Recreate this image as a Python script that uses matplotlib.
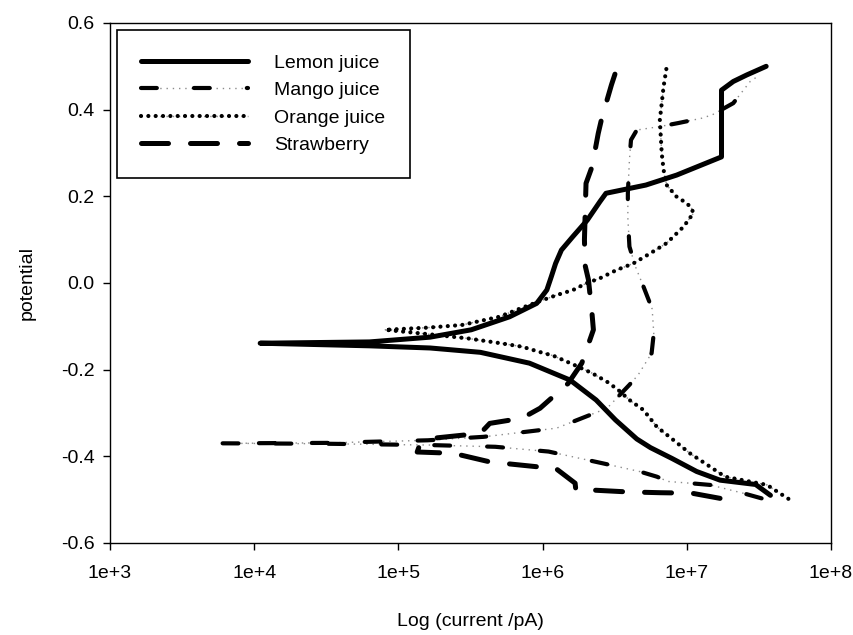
import numpy as np
import matplotlib.pyplot as plt
from matplotlib.ticker import FixedLocator, FuncFormatter, NullLocator

plt.rcParams['font.family'] = ['Liberation Sans', 'DejaVu Sans']
plt.rcParams['axes.unicode_minus'] = False

# current (pA) and potential
lemon_i = [3.8e7, 3.0e7, 1.7e7, 1.17e7, 7.9e6, 5.6e6, 4.5e6, 3.2e6, 2.35e6, 1.55e6,
           8.1e5, 3.7e5, 1.66e5, 6.3e4, 1.1e4, 6.3e4, 1.66e5, 3.2e5, 5.9e5, 9.1e5,
           1.07e6, 1.15e6, 1.23e6, 1.35e6, 1.62e6, 2.04e6, 2.5e6, 2.75e6, 5.2e6, 8.5e6,
           1.74e7, 1.74e7, 2.1e7, 2.6e7, 3.55e7]
lemon_v = [-0.49, -0.465, -0.455, -0.435, -0.405, -0.38, -0.36, -0.316, -0.27, -0.224,
           -0.185, -0.16, -0.15, -0.145, -0.139, -0.136, -0.125, -0.108, -0.078, -0.047,
           -0.016, 0.015, 0.045, 0.076, 0.107, 0.145, 0.188, 0.207, 0.226, 0.249,
           0.291, 0.445, 0.465, 0.48, 0.5]

mango_i = [3.3e7, 2.45e7, 1.45e7, 1.05e7, 7.4e6, 6.2e6, 4.7e6, 2.6e6, 1.1e6, 4.7e5,
           1.66e5, 3.2e4, 6.0e3, 3.2e4, 1.6e5, 3.9e5, 1.25e6, 2.8e6, 4.0e6, 4.6e6,
           5.7e6, 5.9e6, 5.75e6, 5.0e6, 4.4e6, 4.0e6, 3.9e6, 3.9e6, 4.0e6, 4.1e6,
           4.5e6, 6.5e6, 8.7e6, 1.26e7, 1.5e7, 2.1e7, 2.75e7, 3.2e7]
mango_v = [-0.497, -0.485, -0.466, -0.462, -0.458, -0.447, -0.435, -0.416, -0.389, -0.378,
           -0.374, -0.371, -0.37, -0.369, -0.363, -0.355, -0.335, -0.289, -0.235, -0.212,
           -0.162, -0.116, -0.06, -0.008, 0.038, 0.084, 0.15, 0.207, 0.284, 0.33,
           0.353, 0.361, 0.369, 0.38, 0.388, 0.415, 0.465, 0.48]

orange_i = [5.06e7, 4.4e7, 3.6e7, 1.84e7, 1.45e7, 1.05e7, 8.05e6, 6.2e6, 5.0e6, 4.0e6,
            3.35e6, 2.8e6, 2.2e6, 1.63e6, 1.19e6, 9.5e5, 7.2e5, 5.1e5, 3.05e5, 1.6e5,
            8.1e4, 1.6e5, 2.75e5, 5.0e5, 7.1e5, 1.01e6, 1.25e6, 1.63e6, 2.0e6, 2.5e6,
            3.26e6, 4.25e6, 5.55e6, 7.25e6, 9.5e6, 1.11e7, 1.08e7, 1.0e7, 8.5e6, 7.25e6,
            6.9e6, 6.7e6, 6.5e6, 6.9e6, 7.25e6]
orange_v = [-0.498, -0.485, -0.466, -0.447, -0.424, -0.393, -0.362, -0.332, -0.293, -0.27,
            -0.247, -0.228, -0.208, -0.188, -0.168, -0.159, -0.147, -0.139, -0.128, -0.118,
            -0.108, -0.103, -0.097, -0.078, -0.058, -0.039, -0.028, -0.016, -0.001, 0.011,
            0.03, 0.045, 0.068, 0.092, 0.13, 0.161, 0.172, 0.184, 0.199, 0.226,
            0.261, 0.299, 0.376, 0.453, 0.499]

straw_i = [1.7e7, 1.08e7, 6.6e6, 3.8e6, 2.25e6, 1.7e6, 1.68e6, 1.19e6, 9.1e5, 5.3e5,
           4.2e5, 2.4e5, 1.35e5, 1.4e5, 1.66e5, 3.7e5, 4.3e5, 7.2e5, 9.6e5, 1.5e6,
           1.87e6, 2.25e6, 2.2e6, 2.08e6, 1.97e6, 1.95e6, 2.0e6, 2.2e6, 2.43e6, 2.57e6,
           3.0e6, 3.3e6]
straw_v = [-0.497, -0.485, -0.484, -0.482, -0.478, -0.478, -0.462, -0.424, -0.424, -0.416,
           -0.412, -0.393, -0.39, -0.375, -0.359, -0.347, -0.324, -0.312, -0.289, -0.232,
           -0.185, -0.108, -0.07, 0.007, 0.041, 0.1, 0.23, 0.268, 0.345, 0.38,
           0.457, 0.499]

labels = ['Lemon juice', 'Mango juice', 'Orange juice', 'Strawberry']
xticks = [1e3, 1e4, 1e5, 1e6, 1e7, 1e8]
yticks = [-0.6, -0.4, -0.2, 0.0, 0.2, 0.4, 0.6]

fig = plt.figure(figsize=(8.54, 6.35), dpi=100)
ax = fig.add_axes([0.1288, 0.1449, 0.8443, 0.8189])

# gray tick underlays
mg, = ax.plot(mango_i, mango_v, color='#8c8c8c', lw=1.0, linestyle=(0, (1, 3.5)))
og, = ax.plot(orange_i, orange_v, color='#8c8c8c', lw=1.0, linestyle=(0, (1, 3.5)))

ln_l, = ax.plot(lemon_i, lemon_v, color='black', lw=3.6, solid_capstyle='round',
                solid_joinstyle='round')
ln_m, = ax.plot(mango_i, mango_v, color='black', lw=3.0, dashes=(3.8, 8.9),
                dash_capstyle='round')
ln_o, = ax.plot(orange_i, orange_v, color='black', lw=3.0, dashes=(0.01, 1.75),
                dash_capstyle='round')
ln_s, = ax.plot(straw_i, straw_v, color='black', lw=3.6, dashes=(5.4, 4.4),
                dash_capstyle='round')

ax.set_xscale('log')
ax.set_xlim(1e3, 1e8)
ax.set_ylim(-0.6, 0.6)
ax.xaxis.set_major_locator(FixedLocator(xticks))
ax.xaxis.set_minor_locator(NullLocator())
ax.xaxis.set_major_formatter(FuncFormatter(lambda v, p: '1e+%d' % round(np.log10(v))))
ax.yaxis.set_major_locator(FixedLocator(yticks))
ax.yaxis.set_major_formatter(FuncFormatter(lambda v, p: '%.1f' % v))

ax.tick_params(direction='out', length=5, width=1, labelsize=14)
ax.tick_params(axis='x', pad=11)
ax.tick_params(axis='y', pad=6)
for s in ax.spines.values():
    s.set_linewidth(1.0)

ax.set_xlabel('Log (current /pA)', fontsize=14, labelpad=22)
ax.set_ylabel('potential', fontsize=14, labelpad=18)

leg = ax.legend([ln_l, (mg, ln_m), (og, ln_o), ln_s], labels, loc='upper left',
                bbox_to_anchor=(7 / 721, 1 - 7 / 520), borderaxespad=0,
                fancybox=False, edgecolor='black', framealpha=1, fontsize=14,
                handlelength=5.5, handletextpad=1.35, borderpad=1.25, labelspacing=0.5)
leg.get_frame().set_linewidth(1.2)

fig.savefig('out.png', dpi=100)
